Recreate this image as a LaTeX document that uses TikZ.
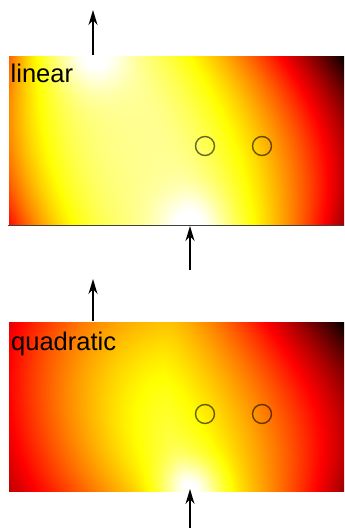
\documentclass[tikz,border=0pt]{standalone}
\usepackage{fontspec}
\setmainfont{Liberation Sans}
\usetikzlibrary{arrows.meta}

% =================================================================
% Temperature fields (hot colour map), 336bp x 170bp each
% stack in: x y  -> out: r g b
% broad band + glow at the sources
% =================================================================
\pgfdeclarefunctionalshading{linearfield}{\pgfpointorigin}{\pgfpoint{336bp}{170bp}}{}{
  1 index 85 sub dup mul 1 index 170 sub dup mul add -0.00082 mul 2.71828 exch exp 0.13 mul
  2 index 182 sub dup mul 2 index dup mul add -0.00082 mul 2.71828 exch exp 0.13 mul add
  3 1 roll
  170 div 1 exch sub
  exch 8 add
  1 index dup dup mul -20 mul exch 100 mul add 115 add
  exch 1 index sub
  dup 0 gt
  { exch 344 exch sub div 1.6 exp 1 index dup dup mul -0.56 mul exch 0.78 mul add }
  { neg exch 8 sub div 3 exp 1 index dup dup mul -0.5 mul exch 0.37 mul add 0.5 add }
  ifelse
  0.89
  exch 1 index sub 3 -1 roll mul add
  exch pop add
  dup 1 gt {pop 1} if dup 0 lt {pop 0} if
  dup 0.365 div dup 1 gt {pop 1} if
  1 index 0.365 sub 0.381 div dup 0 lt {pop 0} if dup 1 gt {pop 1} if
  2 index 0.746 sub 0.254 div dup 0 lt {pop 0} if
  4 -1 roll pop
}

\pgfdeclarefunctionalshading{quadraticfield}{\pgfpointorigin}{\pgfpoint{336bp}{170bp}}{}{
  1 index 182 sub dup mul 1 index dup mul add -0.0011 mul 2.71828 exch exp 0.2 mul
  3 1 roll
  170 div 1 exch sub
  exch 8 add
  1 index dup dup mul 60 mul exch -40 mul add 170 add
  exch 1 index sub
  dup 0 gt
  { exch 344 exch sub div 1.35 exp 1 index dup dup mul -0.56 mul exch 0.78 mul add }
  { neg exch 8 sub div 1 index -0.7 mul 1.8 add exp 1 index dup dup mul -0.24 mul exch 0.18 mul add 0.33 add }
  ifelse
  2 index dup dup mul -0.18 mul exch 0.35 mul add 0.65 add
  exch 1 index sub 3 -1 roll mul add
  exch pop add
  dup 1 gt {pop 1} if dup 0 lt {pop 0} if
  dup 0.365 div dup 1 gt {pop 1} if
  1 index 0.365 sub 0.381 div dup 0 lt {pop 0} if dup 1 gt {pop 1} if
  2 index 0.746 sub 0.254 div dup 0 lt {pop 0} if
  4 -1 roll pop
}

\begin{document}
\begin{tikzpicture}[x=1bp, y=-1bp, >={Stealth[length=15bp, width=9bp]},
    heatarrow/.style={->, line width=1.8bp},
    probe/.style={circle, draw=black, draw opacity=0.6, line width=1.4bp, minimum size=19bp, inner sep=0pt},
    panellabel/.style={anchor=base west, inner sep=0pt, font=\fontsize{25.5bp}{30bp}\selectfont}]

    \useasboundingbox (0,0) rectangle (344,528);

    % =================================================================
    % 1. CAC O NHIET DO
    % =================================================================
    \node[inner sep=0pt, anchor=north west] (linpanel) at (8,55) {\pgfuseshading{linearfield}};
    \node[inner sep=0pt, anchor=north west] (quadpanel) at (8,321) {\pgfuseshading{quadraticfield}};
    \draw[line width=0.6bp, black!75] (linpanel.south west) -- (linpanel.south east);

    % Diem do
    \node[probe] (linprobeA) at (205,146) {};
    \node[probe] (linprobeB) at (262,146) {};
    \node[probe] (quadprobeA) at (205,414) {};
    \node[probe] (quadprobeB) at (262,414) {};

    % =================================================================
    % 2. MUI TEN DONG NHIET
    % =================================================================
    \coordinate (linout) at (93,55);
    \coordinate (linoutend) at (93,10);
    \coordinate (linin) at (190,226);
    \coordinate (lininstart) at (190,270);
    \coordinate (quadout) at (93,321);
    \coordinate (quadoutend) at (93,279);
    \coordinate (quadin) at (190,489);
    \coordinate (quadinstart) at (190,528);

    \draw[heatarrow] (linout) -- (linoutend);
    \draw[heatarrow] (lininstart) -- (linin);
    \draw[heatarrow] (quadout) -- (quadoutend);
    \draw[heatarrow] (quadinstart) -- (quadin);

    % =================================================================
    % 3. NHAN
    % =================================================================
    \node[panellabel] (linlabel) at (10.5,83) {linear};
    \node[panellabel] (quadlabel) at (11,350.5) {quadratic};

\end{tikzpicture}
\end{document}
